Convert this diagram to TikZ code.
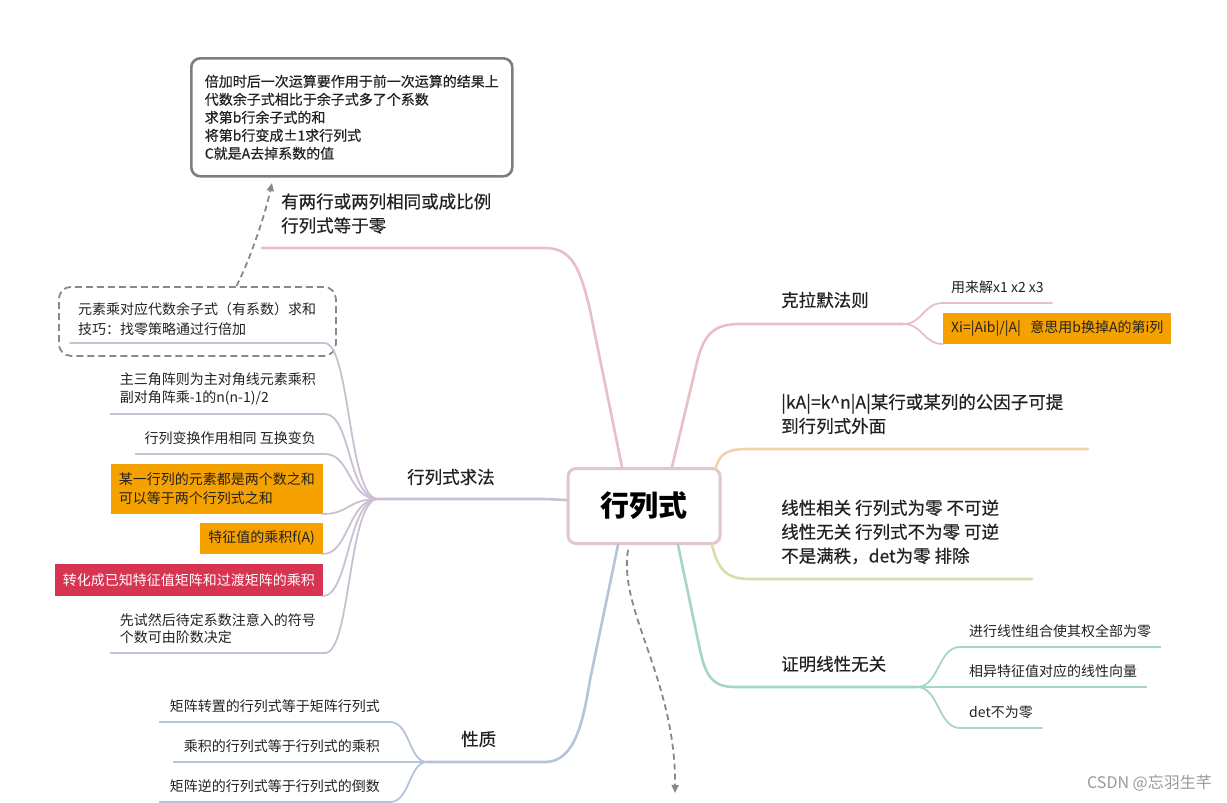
\documentclass[tikz,border=0pt]{standalone}
\usepackage{fontspec}
\setmainfont{Noto Sans CJK SC}
\newfontfamily\heavyish{Noto Sans CJK SC}[FakeBold=0.5]
\usetikzlibrary{arrows.meta}
\definecolor{pinkBr}{HTML}{E8BFC3}
\definecolor{rootLine}{HTML}{E2C6CE}
\definecolor{lilacBr}{HTML}{CBBFD3}
\definecolor{slateBr}{HTML}{B5C4D8}
\definecolor{tealBr}{HTML}{A3D6C9}
\definecolor{oliveBr}{HTML}{D9DDA8}
\definecolor{peachBr}{HTML}{F1D2AD}
\definecolor{markOrange}{HTML}{F5A100}
\definecolor{markRed}{HTML}{D63450}
\definecolor{noteGrey}{HTML}{7E7E7E}
\definecolor{linkGrey}{HTML}{888888}
\definecolor{inkGrey}{HTML}{222222}

\begin{document}
\begin{tikzpicture}[x=1pt,y=-1pt,
    topic/.style={font=\fontsize{17.5}{24}\selectfont\heavyish,text=inkGrey,align=left,anchor=west,inner sep=0pt},
    leaf/.style={font=\fontsize{14}{17.5}\selectfont,text=inkGrey,align=left,inner xsep=9pt,inner ysep=9pt},
    hlbox/.style={font=\fontsize{14}{19}\selectfont,text=inkGrey,fill=markOrange,align=left,inner xsep=8pt,inner ysep=0pt,minimum height=31pt},
    trunk/.style={line width=2.6pt,line cap=round},
    twig/.style={line width=1.8pt,line cap=round},
    relate/.style={draw=linkGrey,line width=1.8pt,dash pattern=on 6pt off 4pt,-{Triangle[length=8pt,width=7pt]}}
  ]
  \useasboundingbox (0,0) rectangle (1227,803);

  % centre
  \node[draw=rootLine,fill=white,line width=3pt,rounded corners=8pt,minimum width=152pt,
    minimum height=75pt,inner sep=0pt,font=\fontsize{29}{29}\selectfont\bfseries,text=black]
    (root) at (644,506) {行列式};

  % forks and free ends
  \coordinate (sameEnd) at (262,248);
  \coordinate (cramerFork) at (903,324);
  \coordinate (kEnd) at (1088,449);
  \coordinate (rankEnd) at (1032,579);
  \coordinate (tealFork) at (917,687);
  \coordinate (slateFork) at (427,762);
  \coordinate (qFork) at (378,499);
  \coordinate (noteIn) at (272,183);
  \coordinate (downEnd) at (675,793);

  % note box and tip box
  \node[draw=noteGrey,line width=2.6pt,rounded corners=9pt,anchor=north west,minimum width=321pt,
    minimum height=118pt,inner xsep=13pt,align=left,text=inkGrey,font=\fontsize{14}{18}\selectfont\heavyish]
    (note) at (190,57) {倍加时后一次运算要作用于前一次运算的结果上\\代数余子式相比于余子式多了个系数\\
    求第b行余子式的和\\将第b行变成±1求行列式\\C就是A去掉系数的值};
  \node[draw=linkGrey,line width=1.8pt,dash pattern=on 7pt off 4pt,rounded corners=12pt,
    anchor=north west,minimum width=277pt,minimum height=69pt] (tip) at (58,286) {};

  % top-left branch
  \node[topic] (same) at (281,213.5) {有两行或两列相同或成比例\\行列式等于零};
  \draw[trunk,pinkBr] ([xshift=-22pt]root.north) -- (590,310)
    .. controls (580,268) and (572,248) .. (545,248) -- (sameEnd);

  % Cramer
  \node[topic] (cramer) at (781,300) {克拉默法则};
  \draw[trunk,pinkBr] ([xshift=28pt]root.north) -- (698,358)
    .. controls (705,334) and (714,324) .. (740,324) -- (cramerFork);
  \node[leaf,anchor=south west,inner xsep=8pt] (solve) at (943,303) {用来解x1 x2 x3};
  \node[hlbox,anchor=south west] (swapCol) at (943,344) {Xi=|Aib|/|A|\ \ \ 意思用b换掉A的第i列};
  \draw[twig,pinkBr] (cramerFork) .. controls +(20,0) and +(-20,0) .. (solve.south west) -- (solve.south east);
  \draw[twig,pinkBr] (cramerFork) .. controls +(20,0) and +(-20,0) .. (swapCol.south west);

  % kA
  \node[topic] (scale) at (781,414) {|kA|=k\textasciicircum n|A|某行或某列的公因子可提\\到行列式外面};
  \draw[trunk,peachBr] ([xshift=-6pt,yshift=-2pt]root.north east)
    .. controls (720,452) and (728,449) .. (750,449) -- (kEnd);

  % rank
  \node[topic] (rank) at (781,532) {线性相关 行列式为零 不可逆\\线性无关 行列式不为零 可逆\\不是满秩，det为零 排除};
  \draw[trunk,oliveBr] ([xshift=-10pt,yshift=2pt]root.south east)
    .. controls (718,570) and (726,579) .. (750,579) -- (rankEnd);

  % linear independence
  \node[topic] (indep) at (781,664) {证明线性无关};
  \draw[trunk,tealBr] ([xshift=34pt]root.south) -- (700,650)
    .. controls (706,678) and (714,687) .. (735,687) -- (tealFork);
  \node[leaf,anchor=south west] (combo) at (960,647) {进行线性组合使其权全部为零};
  \node[leaf,anchor=south west] (eigen) at (960,687) {相异特征值对应的线性向量};
  \node[leaf,anchor=south west] (detnz) at (960,728) {det不为零};
  \foreach \leaf in {combo,eigen,detnz}
    \draw[twig,tealBr] (tealFork) .. controls +(22,0) and +(-22,0) .. (\leaf.south west) -- (\leaf.south east);

  % properties
  \node[topic] (props) at (461,739) {性质};
  \draw[trunk,slateBr] ([xshift=-26pt]root.south) -- (590,680)
    .. controls (583,722) and (575,762) .. (545,762) -- (slateFork);
  \node[leaf,anchor=south east,inner xsep=10pt] (tpose) at (390,722) {矩阵转置的行列式等于矩阵行列式};
  \node[leaf,anchor=south east,inner xsep=10pt] (prod) at (390,762) {乘积的行列式等于行列式的乘积};
  \node[leaf,anchor=south east,inner xsep=10pt] (inv) at (390,802) {矩阵逆的行列式等于行列式的倒数};
  \foreach \leaf in {tpose,prod,inv}
    \draw[twig,slateBr] (\leaf.south west) -- (\leaf.south east) .. controls +(20,0) and +(-18,0) .. (slateFork);

  % methods
  \node[topic] (method) at (407,477) {行列式求法};
  \draw[trunk,lilacBr] (qFork) -- (540,499) .. controls (553,499) and (560,500) .. ([yshift=6pt]root.west);
  \node[leaf,anchor=south west,inner xsep=8pt,inner ysep=7pt,font=\fontsize{14}{20}\selectfont]
    (sumA) at (70,343) {元素乘对应代数余子式（有系数）求和\\技巧：找零策略通过行倍加};
  \node[leaf,anchor=south east] (tri) at (325,414) {主三角阵则为主对角线元素乘积\\副对角阵乘-1的n(n-1)/2};
  \node[leaf,anchor=south east] (swapSign) at (325,454) {行列变换作用相同 互换变负};
  \node[hlbox,anchor=south east,minimum height=50pt] (twoSum) at (323,514) {某一行列的元素都是两个数之和\\可以等于两个行列式之和};
  \node[hlbox,anchor=south east] (eigProd) at (323,554) {特征值的乘积f(A)};
  \node[hlbox,anchor=south east,fill=markRed,text=white,minimum height=32pt] (transf) at (323,596) {转化成已知特征值矩阵和过渡矩阵的乘积};
  \node[leaf,anchor=south east] (trial) at (325,653) {先试然后待定系数注意入的符号\\个数可由阶数决定};
  \foreach \leaf in {sumA,tri,swapSign,trial}
    \draw[twig,lilacBr] (\leaf.south west) -- (\leaf.south east) .. controls +(26,0) and +(-30,0) .. (qFork);
  \foreach \leaf in {twoSum,eigProd,transf}
    \draw[twig,lilacBr] (\leaf.south east) .. controls +(26,0) and +(-30,0) .. (qFork);

  % relations
  \draw[relate] ([xshift=39pt]tip.north) .. controls (250,260) and (265,215) .. (noteIn);
  \draw[relate] ([xshift=-16pt,yshift=-5pt]root.south) .. controls (618,610) and (676,680) .. (downEnd);

  \node[font=\fontsize{16}{16}\selectfont,text=black!40,anchor=east,inner sep=0pt] (credit) at (1212,783) {CSDN @忘羽生芊};
\end{tikzpicture}
\end{document}
